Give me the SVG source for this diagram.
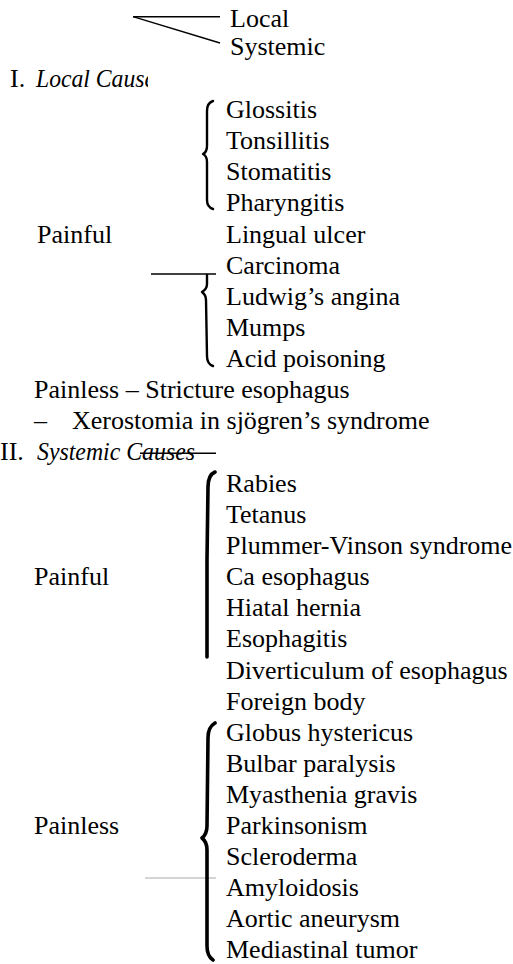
<svg xmlns="http://www.w3.org/2000/svg" width="513" height="964" viewBox="0 0 513 964">
<style>
text{font-family:"Liberation Serif","Times New Roman",serif;font-size:26px;fill:#000}
.it{font-style:italic;font-size:25px}
.ln{stroke:#000;stroke-width:1.4;fill:none}
.br{stroke:#000;stroke-width:2.4;fill:none;stroke-linecap:round;stroke-linejoin:round}
.bt{stroke:#000;stroke-width:3.6;fill:none;stroke-linecap:round;stroke-linejoin:round}
</style>
<defs>
<clipPath id="clipLC"><rect x="0" y="60" width="148" height="40"/></clipPath>
</defs>
<rect width="513" height="964" fill="#fff"/>
<g id="connectors">
<line class="ln" x1="133" y1="16.7" x2="220" y2="16.7"/>
<line class="ln" x1="133" y1="16.7" x2="220" y2="43"/>
<line class="ln" x1="151" y1="274" x2="216" y2="274"/>
<line class="ln" x1="140" y1="453.3" x2="216" y2="453.3"/>
<line x1="145" y1="878" x2="216" y2="878" stroke="#aaa" stroke-width="1"/>
<path class="br" d="M213,101 Q207,103 207,111 L207,146 Q207,152 203,154 Q207,156 207,162 L207,200 Q207,207 213,209"/>
<path class="br" d="M207,275 L207,284 Q207,289 202,292 Q206,295 206,300 L207,356 Q207,364 213,366"/>
<path class="bt" d="M215,472 Q208,475 208,487 L207,560 L207,657"/>
<path class="bt" d="M215,723 Q208,727 208,738 L207,826 Q207,834 202,838 Q207,842 207,850 L207,946 Q207,956 213,960"/>
</g>
<g id="root-split">
<text x="230" y="27">Local</text>
<text x="230" y="55">Systemic</text>
</g>
<g id="local-causes">
<text x="10" y="87">I.</text>
<text class="it" x="36" y="87" textLength="119" lengthAdjust="spacingAndGlyphs" clip-path="url(#clipLC)">Local Cause</text>
</g>
<g id="local-painful">
<text x="37" y="243">Painful</text>
<text x="226" y="118">Glossitis</text>
<text x="226" y="149">Tonsillitis</text>
<text x="226" y="180">Stomatitis</text>
<text x="226" y="211">Pharyngitis</text>
<text x="226" y="243">Lingual ulcer</text>
<text x="226" y="274">Carcinoma</text>
<text x="226" y="305">Ludwig’s angina</text>
<text x="226" y="336">Mumps</text>
<text x="226" y="367">Acid poisoning</text>
</g>
<g id="local-painless">
<text x="34" y="398">Painless – Stricture esophagus</text>
<text x="34" y="429">–</text>
<text x="72" y="429">Xerostomia in sjögren’s syndrome</text>
</g>
<g id="systemic-causes">
<text x="0" y="460">II.</text>
<text class="it" x="37" y="460" textLength="158" lengthAdjust="spacingAndGlyphs">Systemic Causes</text>
</g>
<g id="systemic-painful">
<text x="34" y="585">Painful</text>
<text x="226" y="492">Rabies</text>
<text x="226" y="523">Tetanus</text>
<text x="226" y="554">Plummer-Vinson syndrome</text>
<text x="226" y="585">Ca esophagus</text>
<text x="226" y="616">Hiatal hernia</text>
<text x="226" y="647">Esophagitis</text>
<text x="226" y="679">Diverticulum of esophagus</text>
<text x="226" y="710">Foreign body</text>
</g>
<g id="systemic-painless">
<text x="34" y="834">Painless</text>
<text x="226" y="741">Globus hystericus</text>
<text x="226" y="772">Bulbar paralysis</text>
<text x="226" y="803">Myasthenia gravis</text>
<text x="226" y="834">Parkinsonism</text>
<text x="226" y="865">Scleroderma</text>
<text x="226" y="896">Amyloidosis</text>
<text x="226" y="927">Aortic aneurysm</text>
<text x="226" y="958">Mediastinal tumor</text>
</g>
</svg>
